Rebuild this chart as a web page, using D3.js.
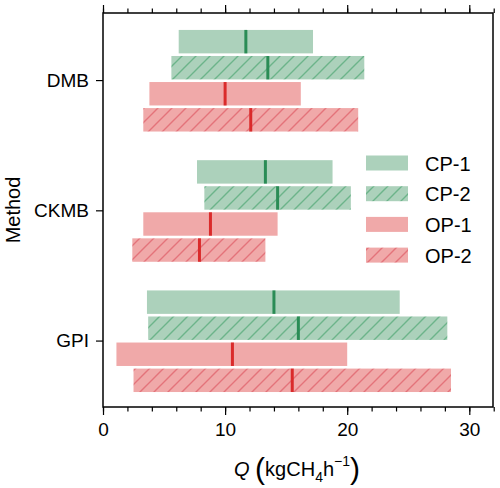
<!DOCTYPE html>
<html><head><meta charset="utf-8">
<script src="https://cdn.jsdelivr.net/npm/d3@7"></script>
<style>body{margin:0;background:#fff;} svg{display:block;font-family:"Liberation Sans",Arial,sans-serif;}</style>
</head><body>
<svg id="c" width="500" height="488"></svg>
<script>
const methods = ["DMB", "CKMB", "GPI"];
const seriesNames = ["CP-1", "CP-2", "OP-1", "OP-2"];
// [low, median, high] per method for each series
const cp1 = [[6.2, 11.7, 17.2], [7.7, 13.3, 18.8], [3.6, 14.0, 24.3]];
const cp2 = [[5.6, 13.5, 21.4], [8.3, 14.3, 20.3], [3.7, 16.0, 28.2]];
const op1 = [[3.8, 10.0, 16.2], [3.3, 8.8, 14.3], [1.1, 10.6, 20.0]];
const op2 = [[3.3, 12.1, 20.9], [2.4, 7.9, 13.3], [2.5, 15.5, 28.5]];
const xTicks = [0, 10, 20, 30];

const series = [
  {name: "CP-1", vals: cp1, fill: "#acd1bb", med: "#2a8c55", hatch: null, off: -0.295},
  {name: "CP-2", vals: cp2, fill: "#acd1bb", med: "#2a8c55", hatch: "#6cb48a", off: -0.095},
  {name: "OP-1", vals: op1, fill: "#f0a9a9", med: "#da2b2b", hatch: null, off: 0.105},
  {name: "OP-2", vals: op2, fill: "#f0a9a9", med: "#da2b2b", hatch: "#e4737a", off: 0.305}
];

const svg = d3.select("#c");
const L = 103, R = 493, T = 13, B = 407;
const x = d3.scaleLinear().domain([0, 32]).range([L, L + 32 * 12.21]);
const y = d3.scaleLinear().domain([-0.515, 2.51]).range([T, B]);
const bh = 0.18;

const defs = svg.append("defs");
const P = 14;
series.filter(s => s.hatch).forEach((s, i) => {
  const p = defs.append("pattern").attr("id", "h" + s.name)
    .attr("patternUnits", "userSpaceOnUse").attr("width", P).attr("height", P);
  p.append("rect").attr("width", P).attr("height", P).attr("fill", s.fill);
  p.append("path").attr("d", `M0,${P} L${P},0 M-3,3 L3,-3 M${P-3},${P+3} L${P+3},${P-3}`)
    .attr("stroke", s.hatch).attr("stroke-width", 1.4);
});

const g = svg.append("g");
series.forEach(s => {
  s.vals.forEach((v, mi) => {
    const yc = y(mi + s.off);
    const y0 = yc - (y(bh) - y(0)) / 2, h = y(bh) - y(0);
    g.append("rect").attr("x", x(v[0])).attr("y", y0)
      .attr("width", x(v[2]) - x(v[0])).attr("height", h)
      .attr("fill", s.hatch ? `url(#h${s.name})` : s.fill);
    g.append("line").attr("x1", x(v[1])).attr("x2", x(v[1]))
      .attr("y1", y0).attr("y2", y0 + h)
      .attr("stroke", s.med).attr("stroke-width", 3);
  });
});

// axes
const fs = 19;
const font = "Liberation Sans, Arial, sans-serif";
svg.append("g").attr("transform", `translate(0,${B})`)
  .call(d3.axisBottom(x).tickValues(d3.range(0, 33, 2)).tickSize(4.5).tickFormat(""))
  .call(a => a.select(".domain").remove());
svg.append("g").attr("transform", `translate(0,${B})`)
  .call(d3.axisBottom(x).tickValues(xTicks).tickSize(8).tickPadding(8))
  .call(a => a.select(".domain").remove())
  .selectAll("text").attr("font-size", fs).attr("font-family", font).attr("fill", "#000");
svg.append("g").attr("transform", `translate(0,${T})`)
  .call(d3.axisTop(x).tickValues(d3.range(0, 33, 2)).tickSize(4.5).tickFormat(""))
  .call(a => a.select(".domain").remove());
svg.append("g").attr("transform", `translate(0,${T})`)
  .call(d3.axisTop(x).tickValues(xTicks).tickSize(8).tickFormat(""))
  .call(a => a.select(".domain").remove());
svg.append("g").attr("transform", `translate(${L},0)`)
  .call(d3.axisLeft(y).tickValues([0, 1, 2]).tickSize(7).tickPadding(7).tickFormat((d) => methods[d]))
  .call(a => a.select(".domain").remove())
  .selectAll("text").attr("font-size", fs).attr("font-family", font).attr("fill", "#000");
svg.selectAll(".tick line").attr("stroke", "#000").attr("stroke-width", 1.2);

svg.append("rect").attr("x", L).attr("y", T).attr("width", R - L).attr("height", B - T)
  .attr("fill", "none").attr("stroke", "#000").attr("stroke-width", 1.5);

// axis titles
svg.append("text").attr("transform", `translate(20,${(T + B) / 2}) rotate(-90)`)
  .attr("text-anchor", "middle").attr("font-size", 20).text("Method");

const xt = svg.append("text").attr("x", 297).attr("y", 476).attr("text-anchor", "middle").attr("font-size", 20);
xt.append("tspan").attr("font-style", "italic").text("Q ");
xt.append("tspan").attr("font-size", 30).attr("font-weight", 300).attr("dy", 3).text("(");
xt.append("tspan").attr("dy", -3).text("kgCH");
xt.append("tspan").attr("font-size", 14).attr("dy", 6).text("4");
xt.append("tspan").attr("dy", -6).text("h");
xt.append("tspan").attr("font-size", 14).attr("dy", -10).text("−1");
xt.append("tspan").attr("font-size", 30).attr("font-weight", 300).attr("dy", 13).text(")");

// legend
const lg = svg.append("g");
series.forEach((s, i) => {
  const yy = 163 + i * 30.7;
  lg.append("rect").attr("x", 366).attr("y", yy - 7.5).attr("width", 42).attr("height", 15)
    .attr("fill", s.hatch ? `url(#h${s.name})` : s.fill);
  lg.append("text").attr("x", 425).attr("y", yy + 7.5).attr("font-size", 20).text(s.name);
});
</script>
</body></html>
